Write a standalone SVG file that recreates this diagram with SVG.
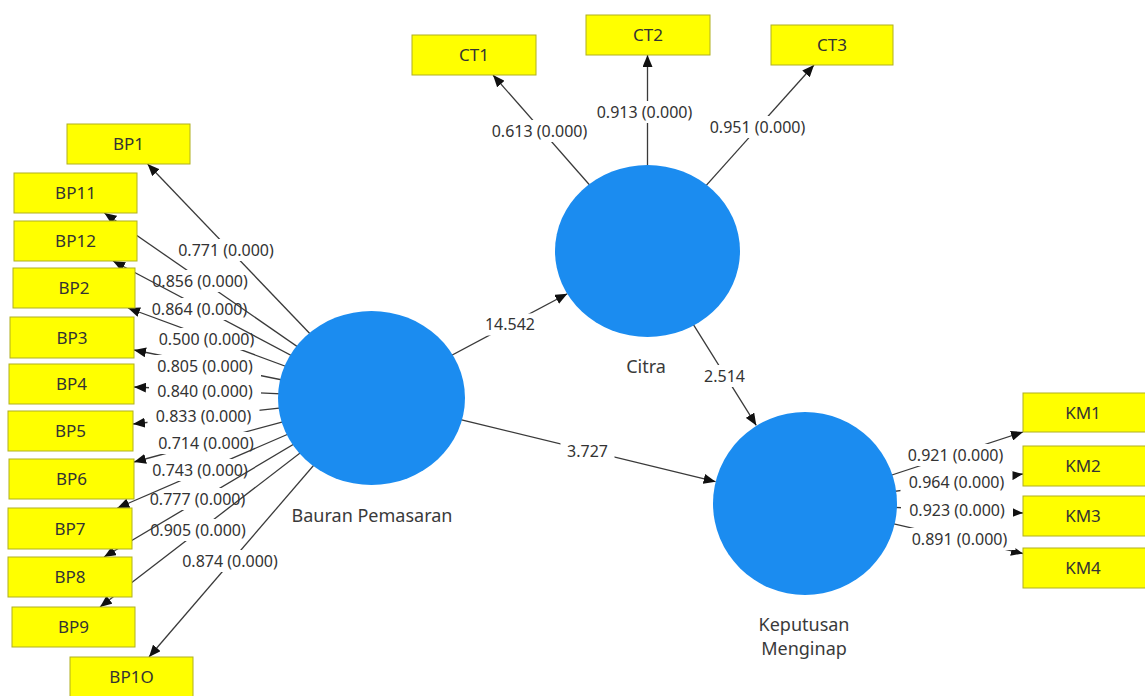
<svg xmlns="http://www.w3.org/2000/svg" width="1145" height="696" viewBox="0 0 1145 696">
<style>
.conn{stroke:#3a3a3a;stroke-width:1.3;fill:none;marker-end:url(#ah)}
.lbl{font-family:"Noto Sans","Liberation Sans",sans-serif;font-size:16px;fill:#333;text-anchor:middle}
.box{fill:#ffff00;stroke:#b0b020;stroke-width:1}
.boxt{font-family:"Noto Sans","Liberation Sans",sans-serif;font-size:17px;fill:#333;text-anchor:middle}
.lv{fill:#1b8cf0}
.lvt{font-family:"Noto Sans","Liberation Sans",sans-serif;font-size:18px;fill:#3a3a3a;text-anchor:middle}
.w{fill:#fff}
.k{fill:#000}
</style>
<defs>
<marker id="ah" markerUnits="userSpaceOnUse" markerWidth="12" markerHeight="10" viewBox="0 0 12 10" refX="12" refY="5" orient="auto"><path d="M0,0 L12,5 L0,10 z" fill="#111"/></marker>
<mask id="m_bp1" maskUnits="userSpaceOnUse" x="0" y="0" width="1145" height="696"><rect class="w" width="1145" height="696"/><rect class="k" x="170" y="239" width="112" height="22"/></mask>
<mask id="m_bp11" maskUnits="userSpaceOnUse" x="0" y="0" width="1145" height="696"><rect class="w" width="1145" height="696"/><rect class="k" x="144" y="270" width="112" height="22"/></mask>
<mask id="m_bp12" maskUnits="userSpaceOnUse" x="0" y="0" width="1145" height="696"><rect class="w" width="1145" height="696"/><rect class="k" x="143.5" y="298" width="112" height="22"/></mask>
<mask id="m_bp2" maskUnits="userSpaceOnUse" x="0" y="0" width="1145" height="696"><rect class="w" width="1145" height="696"/><rect class="k" x="150.5" y="328" width="112" height="22"/></mask>
<mask id="m_bp3" maskUnits="userSpaceOnUse" x="0" y="0" width="1145" height="696"><rect class="w" width="1145" height="696"/><rect class="k" x="149" y="355" width="112" height="22"/></mask>
<mask id="m_bp4" maskUnits="userSpaceOnUse" x="0" y="0" width="1145" height="696"><rect class="w" width="1145" height="696"/><rect class="k" x="149" y="380" width="112" height="22"/></mask>
<mask id="m_bp5" maskUnits="userSpaceOnUse" x="0" y="0" width="1145" height="696"><rect class="w" width="1145" height="696"/><rect class="k" x="147.5" y="405" width="112" height="22"/></mask>
<mask id="m_bp6" maskUnits="userSpaceOnUse" x="0" y="0" width="1145" height="696"><rect class="w" width="1145" height="696"/><rect class="k" x="150" y="432" width="112" height="22"/></mask>
<mask id="m_bp7" maskUnits="userSpaceOnUse" x="0" y="0" width="1145" height="696"><rect class="w" width="1145" height="696"/><rect class="k" x="144" y="459" width="112" height="22"/></mask>
<mask id="m_bp8" maskUnits="userSpaceOnUse" x="0" y="0" width="1145" height="696"><rect class="w" width="1145" height="696"/><rect class="k" x="141.5" y="488" width="112" height="22"/></mask>
<mask id="m_bp9" maskUnits="userSpaceOnUse" x="0" y="0" width="1145" height="696"><rect class="w" width="1145" height="696"/><rect class="k" x="142" y="519" width="112" height="22"/></mask>
<mask id="m_bp10" maskUnits="userSpaceOnUse" x="0" y="0" width="1145" height="696"><rect class="w" width="1145" height="696"/><rect class="k" x="174" y="550" width="112" height="22"/></mask>
<mask id="m_ct1" maskUnits="userSpaceOnUse" x="0" y="0" width="1145" height="696"><rect class="w" width="1145" height="696"/><rect class="k" x="483.5" y="120" width="112" height="22"/></mask>
<mask id="m_ct2" maskUnits="userSpaceOnUse" x="0" y="0" width="1145" height="696"><rect class="w" width="1145" height="696"/><rect class="k" x="588.5" y="101" width="112" height="22"/></mask>
<mask id="m_ct3" maskUnits="userSpaceOnUse" x="0" y="0" width="1145" height="696"><rect class="w" width="1145" height="696"/><rect class="k" x="701.5" y="116" width="112" height="22"/></mask>
<mask id="m_km1" maskUnits="userSpaceOnUse" x="0" y="0" width="1145" height="696"><rect class="w" width="1145" height="696"/><rect class="k" x="899.5" y="444" width="112" height="22"/></mask>
<mask id="m_km2" maskUnits="userSpaceOnUse" x="0" y="0" width="1145" height="696"><rect class="w" width="1145" height="696"/><rect class="k" x="900.5" y="471" width="112" height="22"/></mask>
<mask id="m_km3" maskUnits="userSpaceOnUse" x="0" y="0" width="1145" height="696"><rect class="w" width="1145" height="696"/><rect class="k" x="901" y="499" width="112" height="22"/></mask>
<mask id="m_km4" maskUnits="userSpaceOnUse" x="0" y="0" width="1145" height="696"><rect class="w" width="1145" height="696"/><rect class="k" x="903.5" y="528" width="112" height="22"/></mask>
<mask id="m_p1" maskUnits="userSpaceOnUse" x="0" y="0" width="1145" height="696"><rect class="w" width="1145" height="696"/><rect class="k" x="479" y="313.5" width="62" height="22"/></mask>
<mask id="m_p2" maskUnits="userSpaceOnUse" x="0" y="0" width="1145" height="696"><rect class="w" width="1145" height="696"/><rect class="k" x="560.5" y="440" width="54" height="22"/></mask>
<mask id="m_p3" maskUnits="userSpaceOnUse" x="0" y="0" width="1145" height="696"><rect class="w" width="1145" height="696"/><rect class="k" x="697.5" y="365" width="54" height="22"/></mask>
</defs>
<rect width="1145" height="696" fill="#fff"/>
<g id="connectors">
<path class="conn" mask="url(#m_bp1)" d="M371.5,398 L147.6,164"/>
<path class="conn" mask="url(#m_bp11)" d="M371.5,398 L104.4,213"/>
<path class="conn" mask="url(#m_bp12)" d="M371.5,398 L113,261"/>
<path class="conn" mask="url(#m_bp2)" d="M371.5,398 L128,308"/>
<path class="conn" mask="url(#m_bp3)" d="M371.5,398 L134,350"/>
<path class="conn" mask="url(#m_bp4)" d="M371.5,398 L134,387"/>
<path class="conn" mask="url(#m_bp5)" d="M371.5,398 L133,424"/>
<path class="conn" mask="url(#m_bp6)" d="M371.5,398 L134,462"/>
<path class="conn" mask="url(#m_bp7)" d="M371.5,398 L117.4,508"/>
<path class="conn" mask="url(#m_bp8)" d="M371.5,398 L104,557"/>
<path class="conn" mask="url(#m_bp9)" d="M371.5,398 L100,607"/>
<path class="conn" mask="url(#m_bp10)" d="M371.5,398 L149,657"/>
<path class="conn" mask="url(#m_ct1)" d="M647.5,251 L493,75"/>
<path class="conn" mask="url(#m_ct2)" d="M647.5,251 L647.5,55"/>
<path class="conn" mask="url(#m_ct3)" d="M647.5,251 L814,65"/>
<path class="conn" mask="url(#m_km1)" d="M805,503.5 L1023,432"/>
<path class="conn" mask="url(#m_km2)" d="M805,503.5 L1023,474"/>
<path class="conn" mask="url(#m_km3)" d="M805,503.5 L1023,513"/>
<path class="conn" mask="url(#m_km4)" d="M805,503.5 L1023,553.5"/>
<path class="conn" mask="url(#m_p1)" d="M371.5,398 L567.3,293.7"/>
<path class="conn" mask="url(#m_p2)" d="M371.5,398 L715.6,481.7"/>
<path class="conn" mask="url(#m_p3)" d="M647.5,251 L756.3,425.4"/>
<text class="lbl" x="226" y="255.5">0.771 (0.000)</text>
<text class="lbl" x="200" y="286.5">0.856 (0.000)</text>
<text class="lbl" x="199.5" y="314.5">0.864 (0.000)</text>
<text class="lbl" x="206.5" y="344.5">0.500 (0.000)</text>
<text class="lbl" x="205" y="371.5">0.805 (0.000)</text>
<text class="lbl" x="205" y="396.5">0.840 (0.000)</text>
<text class="lbl" x="203.5" y="421.5">0.833 (0.000)</text>
<text class="lbl" x="206" y="448.5">0.714 (0.000)</text>
<text class="lbl" x="200" y="475.5">0.743 (0.000)</text>
<text class="lbl" x="197.5" y="504.5">0.777 (0.000)</text>
<text class="lbl" x="198" y="535.5">0.905 (0.000)</text>
<text class="lbl" x="230" y="566.5">0.874 (0.000)</text>
<text class="lbl" x="539.5" y="136.5">0.613 (0.000)</text>
<text class="lbl" x="644.5" y="117.5">0.913 (0.000)</text>
<text class="lbl" x="757.5" y="132.5">0.951 (0.000)</text>
<text class="lbl" x="955.5" y="460.5">0.921 (0.000)</text>
<text class="lbl" x="956.5" y="487.5">0.964 (0.000)</text>
<text class="lbl" x="957" y="515.5">0.923 (0.000)</text>
<text class="lbl" x="959.5" y="544.5">0.891 (0.000)</text>
<text class="lbl" x="510" y="330">14.542</text>
<text class="lbl" x="587.5" y="456.5">3.727</text>
<text class="lbl" x="724.5" y="381.5">2.514</text>
</g>
<g id="bauran-pemasaran"><ellipse class="lv" cx="371.5" cy="398" rx="93.5" ry="87"/><text class="lvt" x="372" y="522">Bauran Pemasaran</text></g>
<g id="citra"><ellipse class="lv" cx="647.5" cy="251" rx="92.5" ry="86"/><text class="lvt" x="646" y="373">Citra</text></g>
<g id="keputusan-menginap"><ellipse class="lv" cx="805" cy="503.5" rx="92" ry="91.5"/><text class="lvt" x="804" y="631">Keputusan</text><text class="lvt" x="804" y="655">Menginap</text></g>
<g id="BP1"><rect class="box" x="67" y="124" width="123" height="40"/><text class="boxt" x="128.5" y="150">BP1</text></g>
<g id="BP11"><rect class="box" x="14" y="173" width="123" height="40"/><text class="boxt" x="75.5" y="199">BP11</text></g>
<g id="BP12"><rect class="box" x="14" y="221" width="123" height="40"/><text class="boxt" x="75.5" y="247">BP12</text></g>
<g id="BP2"><rect class="box" x="13" y="268" width="122" height="40"/><text class="boxt" x="74" y="294">BP2</text></g>
<g id="BP3"><rect class="box" x="10" y="317" width="124" height="41"/><text class="boxt" x="72" y="343.5">BP3</text></g>
<g id="BP4"><rect class="box" x="9" y="364" width="125" height="40"/><text class="boxt" x="71.5" y="390">BP4</text></g>
<g id="BP5"><rect class="box" x="8" y="411" width="125" height="40"/><text class="boxt" x="70.5" y="437">BP5</text></g>
<g id="BP6"><rect class="box" x="9" y="459" width="125" height="40"/><text class="boxt" x="71.5" y="485">BP6</text></g>
<g id="BP7"><rect class="box" x="8" y="508" width="124" height="41"/><text class="boxt" x="70" y="534.5">BP7</text></g>
<g id="BP8"><rect class="box" x="8" y="557" width="124" height="40"/><text class="boxt" x="70" y="583">BP8</text></g>
<g id="BP9"><rect class="box" x="12" y="607" width="123" height="40"/><text class="boxt" x="73.5" y="633">BP9</text></g>
<g id="BP1O"><rect class="box" x="70" y="657" width="123" height="40"/><text class="boxt" x="131.5" y="683">BP1O</text></g>
<g id="CT1"><rect class="box" x="412" y="35" width="124" height="40"/><text class="boxt" x="474" y="61">CT1</text></g>
<g id="CT2"><rect class="box" x="586" y="15" width="124" height="40"/><text class="boxt" x="648" y="41">CT2</text></g>
<g id="CT3"><rect class="box" x="771" y="25" width="122" height="40"/><text class="boxt" x="832" y="51">CT3</text></g>
<g id="KM1"><rect class="box" x="1023" y="393" width="124" height="39"/><text class="boxt" x="1083" y="418.5">KM1</text></g>
<g id="KM2"><rect class="box" x="1023" y="446" width="124" height="40"/><text class="boxt" x="1083" y="472">KM2</text></g>
<g id="KM3"><rect class="box" x="1023" y="496" width="124" height="40"/><text class="boxt" x="1083" y="522">KM3</text></g>
<g id="KM4"><rect class="box" x="1023" y="548" width="124" height="40"/><text class="boxt" x="1083" y="574">KM4</text></g>
</svg>
